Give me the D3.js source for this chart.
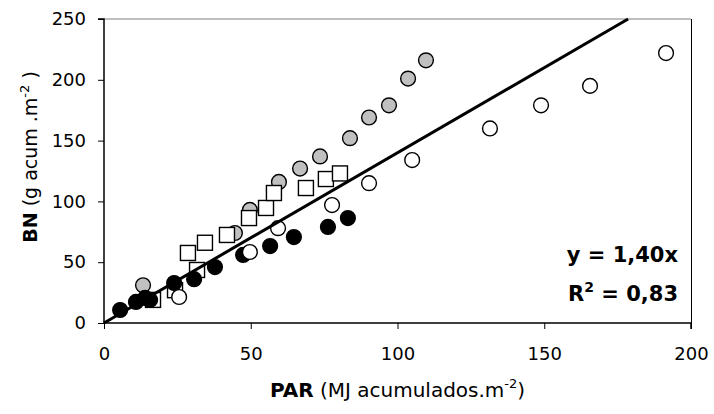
<!DOCTYPE html>
<html><head><meta charset="utf-8">
<script src="https://cdn.jsdelivr.net/npm/d3@7"></script>
<style>body{margin:0;background:#fff}svg{display:block}</style>
</head><body><svg id="c" width="714" height="414"></svg>
<script>
const xTicks = [0, 50, 100, 150, 200];
const yTicks = [0, 50, 100, 150, 200, 250];

const grayX = [13.3, 44.6, 49.7, 59.6, 66.8, 73.6, 83.8, 90.3, 97.1, 103.6, 109.7];
const grayY = [31, 74, 93, 116, 127, 137, 152, 169, 179, 201, 216];

const squareX = [16.7, 24.2, 28.6, 31.7, 34.4, 41.9, 49.4, 55.2, 57.9, 68.8, 75.6, 80.4];
const squareY = [19, 27, 57.6, 43.6, 66, 72.4, 86.3, 94.6, 106.9, 111, 118.4, 123];

const blackX = [5.5, 10.9, 14, 15.7, 23.9, 30.7, 37.8, 47.4, 56.6, 64.7, 76.3, 83.1];
const blackY = [10.7, 17.3, 20.6, 19, 32.9, 36, 46, 56, 63.3, 70.7, 79, 86.3];

const openX = [25.6, 49.7, 59.3, 77.7, 90.3, 105, 131.5, 148.9, 165.6, 191.5];
const openY = [21.4, 58.4, 78, 97, 115, 134, 160, 179, 195, 222];

const slope = 1.40;
const eqText = "y = 1,40x";
const r2Text = "0,83";

const svg = d3.select("#c");
const L = 104, R = 691, T = 19, B = 323;
const x = d3.scaleLinear().domain([0, 200]).range([L, R]);
const y = d3.scaleLinear().domain([0, 250]).range([B, T]);
const font = "'DejaVu Sans', Verdana, sans-serif";

// frame
svg.append("line").attr("x1", L).attr("x2", R).attr("y1", T).attr("y2", T)
  .attr("stroke", "#808080").attr("stroke-width", 1);
svg.append("line").attr("x1", R + 0.5).attr("x2", R + 0.5).attr("y1", T).attr("y2", B)
  .attr("stroke", "#000").attr("stroke-width", 1);

// axes
const xAxis = svg.append("g").attr("transform", `translate(0,${B})`)
  .call(d3.axisBottom(x).tickValues(xTicks).tickSize(6).tickPadding(18).tickFormat(d3.format("d")));
const yAxis = svg.append("g").attr("transform", `translate(${L},0)`)
  .call(d3.axisLeft(y).tickValues(yTicks).tickSize(6).tickPadding(12).tickFormat(d3.format("d")));
[xAxis, yAxis].forEach(a => {
  a.select(".domain").attr("stroke", "#000").attr("stroke-width", 1.5);
  a.selectAll(".tick line").attr("stroke", "#000").attr("stroke-width", 1);
  a.selectAll("text").attr("font-family", font).attr("font-size", 18).attr("fill", "#000");
});
yAxis.select(".domain").attr("d", `M-6,${T}H0V${B}`);
xAxis.select(".domain").attr("d", `M${L},0H${R}V6`);

// markers
const pts = (xs, ys) => xs.map((v, i) => [v, ys[i]]);
const circ = (data, fill) => svg.append("g").selectAll("circle").data(data).join("circle")
  .attr("cx", d => x(d[0])).attr("cy", d => y(d[1])).attr("r", 7.4)
  .attr("fill", fill).attr("stroke", "#000").attr("stroke-width", 1.4);

circ(pts(grayX, grayY), "#c0c0c0");
svg.append("g").selectAll("rect").data(pts(squareX, squareY)).join("rect")
  .attr("x", d => x(d[0]) - 7.5).attr("y", d => y(d[1]) - 7.5)
  .attr("width", 15).attr("height", 15)
  .attr("fill", "#fff").attr("stroke", "#000").attr("stroke-width", 1.4);
circ(pts(blackX, blackY), "#000");
circ(pts(openX, openY), "#fff");

// regression line
const xEnd = 250 / slope;
svg.append("line").attr("x1", x(0)).attr("y1", y(0)).attr("x2", x(xEnd)).attr("y2", y(slope * xEnd))
  .attr("stroke", "#000").attr("stroke-width", 3);

// equation
svg.append("text").attr("x", 678).attr("y", 262).attr("text-anchor", "end")
  .attr("font-family", font).attr("font-size", 21).attr("font-weight", "bold").text(eqText);
const r2 = svg.append("text").attr("x", 678).attr("y", 301).attr("text-anchor", "end")
  .attr("font-family", font).attr("font-size", 21).attr("font-weight", "bold");
r2.append("tspan").text("R");
r2.append("tspan").attr("font-size", 14).attr("dy", -9).text("2");
r2.append("tspan").attr("dy", 9).text(" = " + r2Text);

// axis titles
const xt = svg.append("text").attr("x", (L + R) / 2).attr("y", 397).attr("text-anchor", "middle")
  .attr("font-family", font).attr("font-size", 20);
xt.append("tspan").attr("font-weight", "bold").text("PAR");
xt.append("tspan").text(" (MJ acumulados.m");
xt.append("tspan").attr("font-size", 13).attr("dy", -9).text("-2");
xt.append("tspan").attr("dy", 9).text(")");

const yt = svg.append("text").attr("transform", `translate(37,157) rotate(-90)`).attr("text-anchor", "middle")
  .attr("font-family", font).attr("font-size", 19);
yt.append("tspan").attr("font-weight", "bold").text("BN");
yt.append("tspan").text(" (g acum .m");
yt.append("tspan").attr("font-size", 13).attr("dy", -8).text("-2");
yt.append("tspan").attr("dy", 8).text(" )");
</script>
</body></html>
